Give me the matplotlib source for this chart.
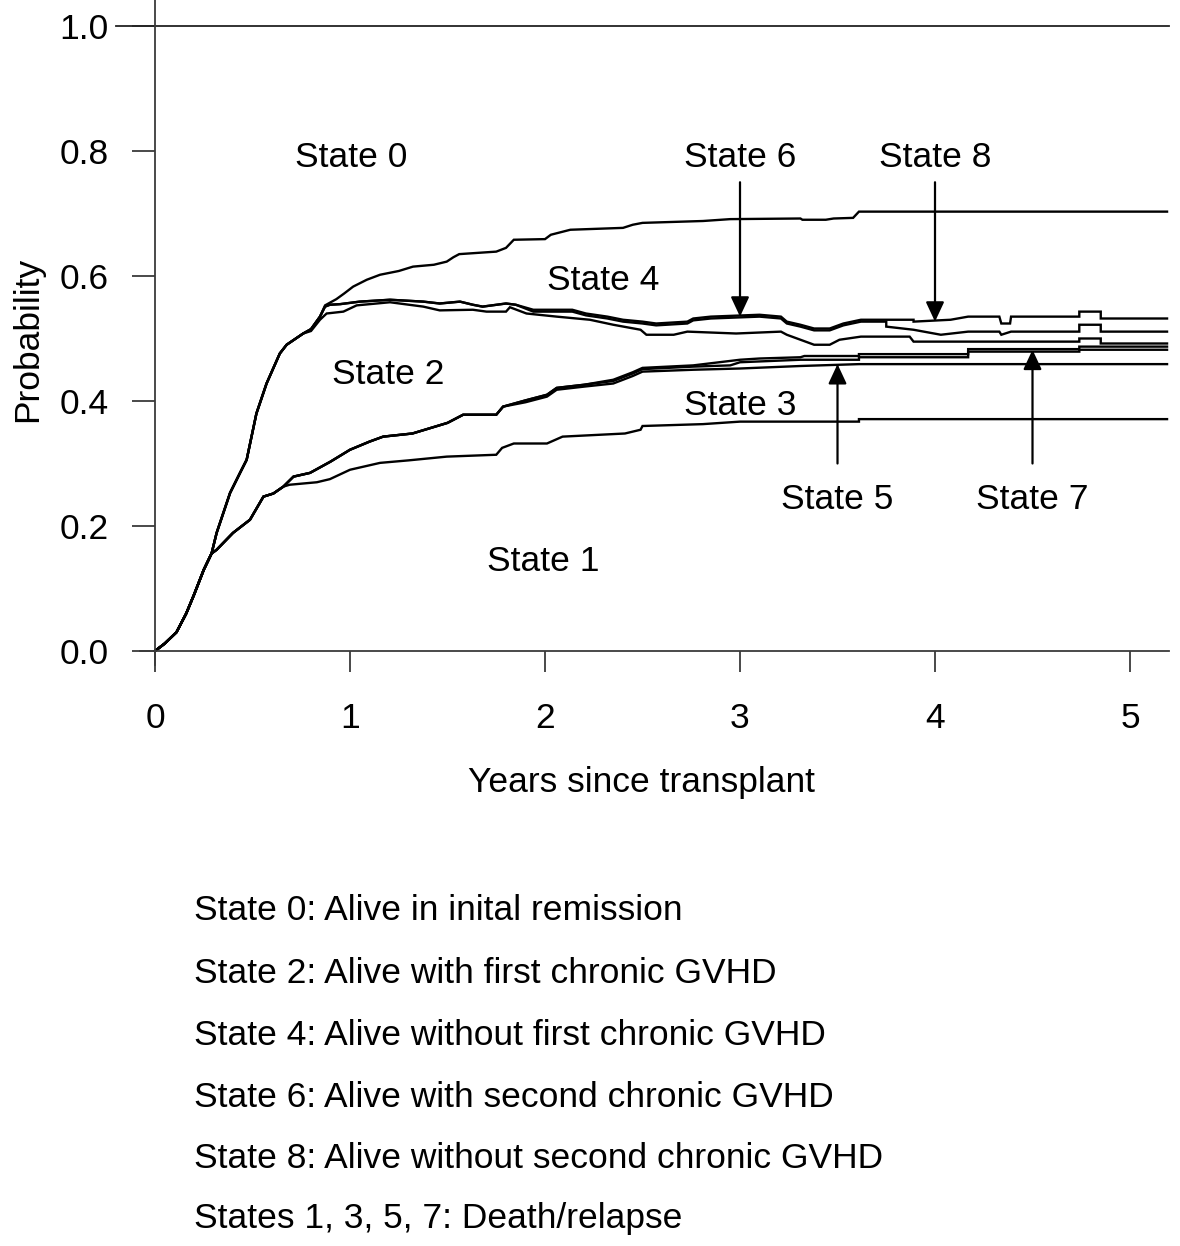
import matplotlib
matplotlib.use('Agg')
import matplotlib.pyplot as plt

plt.rcParams['font.family'] = ['Liberation Sans', 'DejaVu Sans']
FS = 25.5

# ---- data ----
# shared early segment of all curves
early_x = [0, 0.05, 0.11, 0.16, 0.20, 0.25, 0.29]
early_y = [0, 0.012, 0.03, 0.06, 0.09, 0.13, 0.156]
# upper bundle (alive states) before it splits
upper_x = [0.316, 0.385, 0.436, 0.47, 0.52, 0.572, 0.64, 0.675, 0.76]
upper_y = [0.189, 0.253, 0.285, 0.306, 0.38, 0.428, 0.476, 0.49, 0.508]
# lower bundle (death/relapse) before it splits
lower_x = [0.316, 0.40, 0.487, 0.556, 0.607, 0.658]
lower_y = [0.162, 0.189, 0.21, 0.247, 0.252, 0.263]

top_x = [0.80, 0.846, 0.872, 0.93, 0.97, 1.016, 1.086, 1.154, 1.25, 1.323, 1.43, 1.496, 1.53, 1.56,
         1.75, 1.80, 1.84, 2.0, 2.03, 2.13, 2.40, 2.45, 2.50, 2.81, 2.95, 3.31, 3.32, 3.44, 3.48,
         3.58, 3.61, 5.19]
top_y = [0.515, 0.535, 0.553, 0.563, 0.572, 0.583, 0.594, 0.602, 0.608, 0.615, 0.618, 0.623, 0.630,
         0.635, 0.639, 0.645, 0.658, 0.659, 0.666, 0.674, 0.677, 0.682, 0.685, 0.688, 0.691, 0.692,
         0.690, 0.690, 0.692, 0.693, 0.703, 0.703]

a_x = [0.80, 0.846, 0.872, 0.897, 0.95, 1.05, 1.205, 1.376, 1.46, 1.564, 1.63, 1.68, 1.80, 1.85,
       1.94, 2.14, 2.21, 2.32, 2.40, 2.50, 2.57, 2.73, 2.76, 2.85, 3.10, 3.21, 3.24, 3.31, 3.38,
       3.46, 3.53, 3.62, 3.89, 3.89, 4.08, 4.17, 4.33, 4.34, 4.385, 4.39, 4.74, 4.74, 4.85, 4.85, 5.19]
a_y = [0.515, 0.535, 0.551, 0.554, 0.555, 0.559, 0.562, 0.559, 0.556, 0.559, 0.554, 0.551, 0.556,
       0.554, 0.546, 0.546, 0.540, 0.535, 0.530, 0.527, 0.524, 0.527, 0.532, 0.535, 0.538, 0.535,
       0.527, 0.522, 0.516, 0.516, 0.524, 0.530, 0.530, 0.527, 0.530, 0.535, 0.535, 0.524, 0.524,
       0.535, 0.535, 0.543, 0.543, 0.532, 0.532]

a2_x = [0.80, 0.846, 0.872, 0.897, 0.95, 1.05, 1.205, 1.376, 1.46, 1.564, 1.63, 1.68, 1.80, 1.85,
        1.94, 2.14, 2.21, 2.32, 2.40, 2.50, 2.57, 2.73, 2.76, 2.85, 3.10, 3.21, 3.24, 3.31, 3.38,
        3.46, 3.53, 3.62, 3.75, 3.75, 3.89, 4.03, 4.17, 4.33, 4.34, 4.39, 4.74, 4.74, 4.85, 4.85, 5.19]
a2_y = [0.515, 0.535, 0.551, 0.554, 0.555, 0.559, 0.562, 0.559, 0.556, 0.559, 0.554, 0.551, 0.556,
        0.554, 0.543, 0.543, 0.537, 0.532, 0.527, 0.524, 0.521, 0.524, 0.529, 0.532, 0.535, 0.532,
        0.524, 0.519, 0.513, 0.513, 0.521, 0.527, 0.527, 0.519, 0.514, 0.506, 0.511, 0.511, 0.506,
        0.511, 0.511, 0.522, 0.522, 0.511, 0.511]

b_x = [0.80, 0.846, 0.88, 0.966, 1.034, 1.205, 1.376, 1.46, 1.63, 1.70, 1.80, 1.82, 1.905, 2.06,
       2.23, 2.35, 2.49, 2.52, 2.66, 2.73, 2.98, 3.21, 3.24, 3.31, 3.38, 3.46, 3.51, 3.62, 3.87,
       3.89, 4.74, 4.74, 4.85, 4.85, 5.19]
b_y = [0.512, 0.530, 0.540, 0.543, 0.553, 0.558, 0.551, 0.545, 0.546, 0.543, 0.543, 0.550, 0.540,
       0.535, 0.530, 0.522, 0.514, 0.506, 0.506, 0.511, 0.508, 0.511, 0.506, 0.498, 0.490, 0.490,
       0.498, 0.503, 0.503, 0.495, 0.495, 0.500, 0.500, 0.492, 0.492]

s1_x = [0.69, 0.83, 0.897, 1.0, 1.154, 1.30, 1.496, 1.75, 1.78, 1.84, 2.01, 2.09, 2.41, 2.49, 2.50,
        2.81, 3.0, 3.61, 3.61, 5.19]
s1_y = [0.266, 0.270, 0.275, 0.290, 0.301, 0.305, 0.311, 0.314, 0.325, 0.332, 0.332, 0.343, 0.348,
        0.354, 0.360, 0.363, 0.367, 0.367, 0.371, 0.371]

s3_x = [0.71, 0.795, 0.90, 1.0, 1.10, 1.17, 1.32, 1.50, 1.58, 1.75, 1.785, 1.90, 2.01, 2.06, 2.20,
        2.35, 2.45, 2.50, 2.76, 3.0, 3.31, 3.61, 5.19]
s3_y = [0.279, 0.285, 0.303, 0.322, 0.335, 0.343, 0.348, 0.365, 0.378, 0.378, 0.391, 0.398, 0.407,
        0.418, 0.423, 0.428, 0.440, 0.447, 0.450, 0.452, 0.456, 0.459, 0.459]

s5_x = [0.71, 0.795, 0.90, 1.0, 1.10, 1.17, 1.32, 1.50, 1.58, 1.75, 1.785, 1.90, 2.01, 2.06, 2.20,
        2.35, 2.45, 2.50, 2.76, 2.95, 3.0, 3.31, 3.61, 3.61, 4.17, 4.17, 4.74, 4.74, 5.19]
s5_y = [0.279, 0.285, 0.303, 0.322, 0.335, 0.343, 0.348, 0.365, 0.378, 0.378, 0.391, 0.401, 0.410,
        0.421, 0.426, 0.432, 0.444, 0.451, 0.455, 0.457, 0.462, 0.466, 0.466, 0.470, 0.470, 0.479,
        0.479, 0.482, 0.482]

s7_x = [0.71, 0.795, 0.90, 1.0, 1.10, 1.17, 1.32, 1.50, 1.58, 1.75, 1.785, 1.90, 2.01, 2.06, 2.20,
        2.35, 2.45, 2.50, 2.76, 3.0, 3.10, 3.31, 3.33, 3.61, 3.61, 4.17, 4.17, 4.74, 4.74, 5.19]
s7_y = [0.279, 0.285, 0.303, 0.322, 0.335, 0.343, 0.348, 0.365, 0.378, 0.378, 0.391, 0.401, 0.410,
        0.421, 0.426, 0.434, 0.446, 0.453, 0.457, 0.466, 0.468, 0.470, 0.472, 0.472, 0.475, 0.475,
        0.483, 0.483, 0.487, 0.487]

# state labels: (text, x, baseline y)
label_text = ['State 0', 'State 6', 'State 8', 'State 4', 'State 2', 'State 3', 'State 5', 'State 7', 'State 1']
label_x = [1.005, 3.0, 4.0, 2.30, 1.196, 3.0, 3.50, 4.50, 1.99]
label_y = [0.775, 0.775, 0.775, 0.578, 0.428, 0.378, 0.227, 0.227, 0.128]

# arrows: x, tail y, head y
arrow_x = [3.0, 4.0, 3.5, 4.5]
arrow_from = [0.75, 0.75, 0.30, 0.30]
arrow_to = [0.535, 0.527, 0.459, 0.482]

legend_lines = [
    'State 0: Alive in inital remission',
    'State 2: Alive with first chronic GVHD',
    'State 4: Alive without first chronic GVHD',
    'State 6: Alive with second chronic GVHD',
    'State 8: Alive without second chronic GVHD',
    'States 1, 3, 5, 7: Death/relapse',
]

xticks = [0, 1, 2, 3, 4, 5]
yticks = [0.0, 0.2, 0.4, 0.6, 0.8, 1.0]

# ---- figure ----
W, H = 1180, 1246
fig = plt.figure(figsize=(W / 100, H / 100), dpi=100)
ax = fig.add_axes([140 / W, (H - 665) / H, 1029 / W, 665 / H])
ax.set_xlim(-0.077, 5.2)
ax.set_ylim(-0.0224, 1.0416)

spine_col = '#3a3a3a'
for s in ['top', 'right']:
    ax.spines[s].set_visible(False)
ax.spines['left'].set_position(('data', 0))
ax.spines['bottom'].set_position(('data', 0))
for s in ['left', 'bottom']:
    ax.spines[s].set_color(spine_col)
    ax.spines[s].set_linewidth(1.3)

ax.set_xticks(xticks)
ax.set_xticklabels([str(t) for t in xticks])
ax.set_yticks(yticks)
ax.set_yticklabels(['%.1f' % t for t in yticks])
ax.tick_params(axis='y', direction='out', length=16.5, width=1.3, pad=17, labelsize=FS, color=spine_col)
ax.tick_params(axis='x', direction='out', length=15, width=1.3, pad=22, labelsize=FS, color=spine_col)

# horizontal reference line at 1.0
ax.plot([-0.2, 5.2], [1, 1], color='#222222', lw=1.3, clip_on=False)

lw = 1.7
col = 'black'
uppers = [(top_x, top_y), (a_x, a_y), (a2_x, a2_y), (b_x, b_y)]
lowers = [(s1_x, s1_y), (s3_x, s3_y), (s5_x, s5_y), (s7_x, s7_y)]
for xs, ys in uppers:
    ax.plot(early_x + upper_x + xs, early_y + upper_y + ys, color=col, lw=lw, solid_joinstyle='miter')
for xs, ys in lowers:
    ax.plot(early_x + lower_x + xs, early_y + lower_y + ys, color=col, lw=lw, solid_joinstyle='miter')

for t, x, y in zip(label_text, label_x, label_y):
    ax.text(x, y, t, ha='center', va='baseline', fontsize=FS)

for x, y0, y1 in zip(arrow_x, arrow_from, arrow_to):
    ax.annotate('', xy=(x, y1), xytext=(x, y0),
                arrowprops=dict(arrowstyle='-|>,head_length=0.6,head_width=0.28',
                                mutation_scale=20, color='black', lw=1.6,
                                shrinkA=0, shrinkB=0))

ax.set_xlabel('Years since transplant', fontsize=FS)
ax.xaxis.set_label_coords(0.487, -0.177)
ax.xaxis.label.set_va('center')
ax.set_ylabel('Probability', fontsize=FS)
ax.yaxis.set_label_coords(-0.1088, 0.490)
ax.yaxis.label.set_va('center')

baselines = [920, 983, 1045, 1107, 1168, 1228]
for txt, yb in zip(legend_lines, baselines):
    fig.text(194 / W, 1 - yb / H, txt, ha='left', va='baseline', fontsize=FS)

fig.savefig('out.png', dpi=100)
